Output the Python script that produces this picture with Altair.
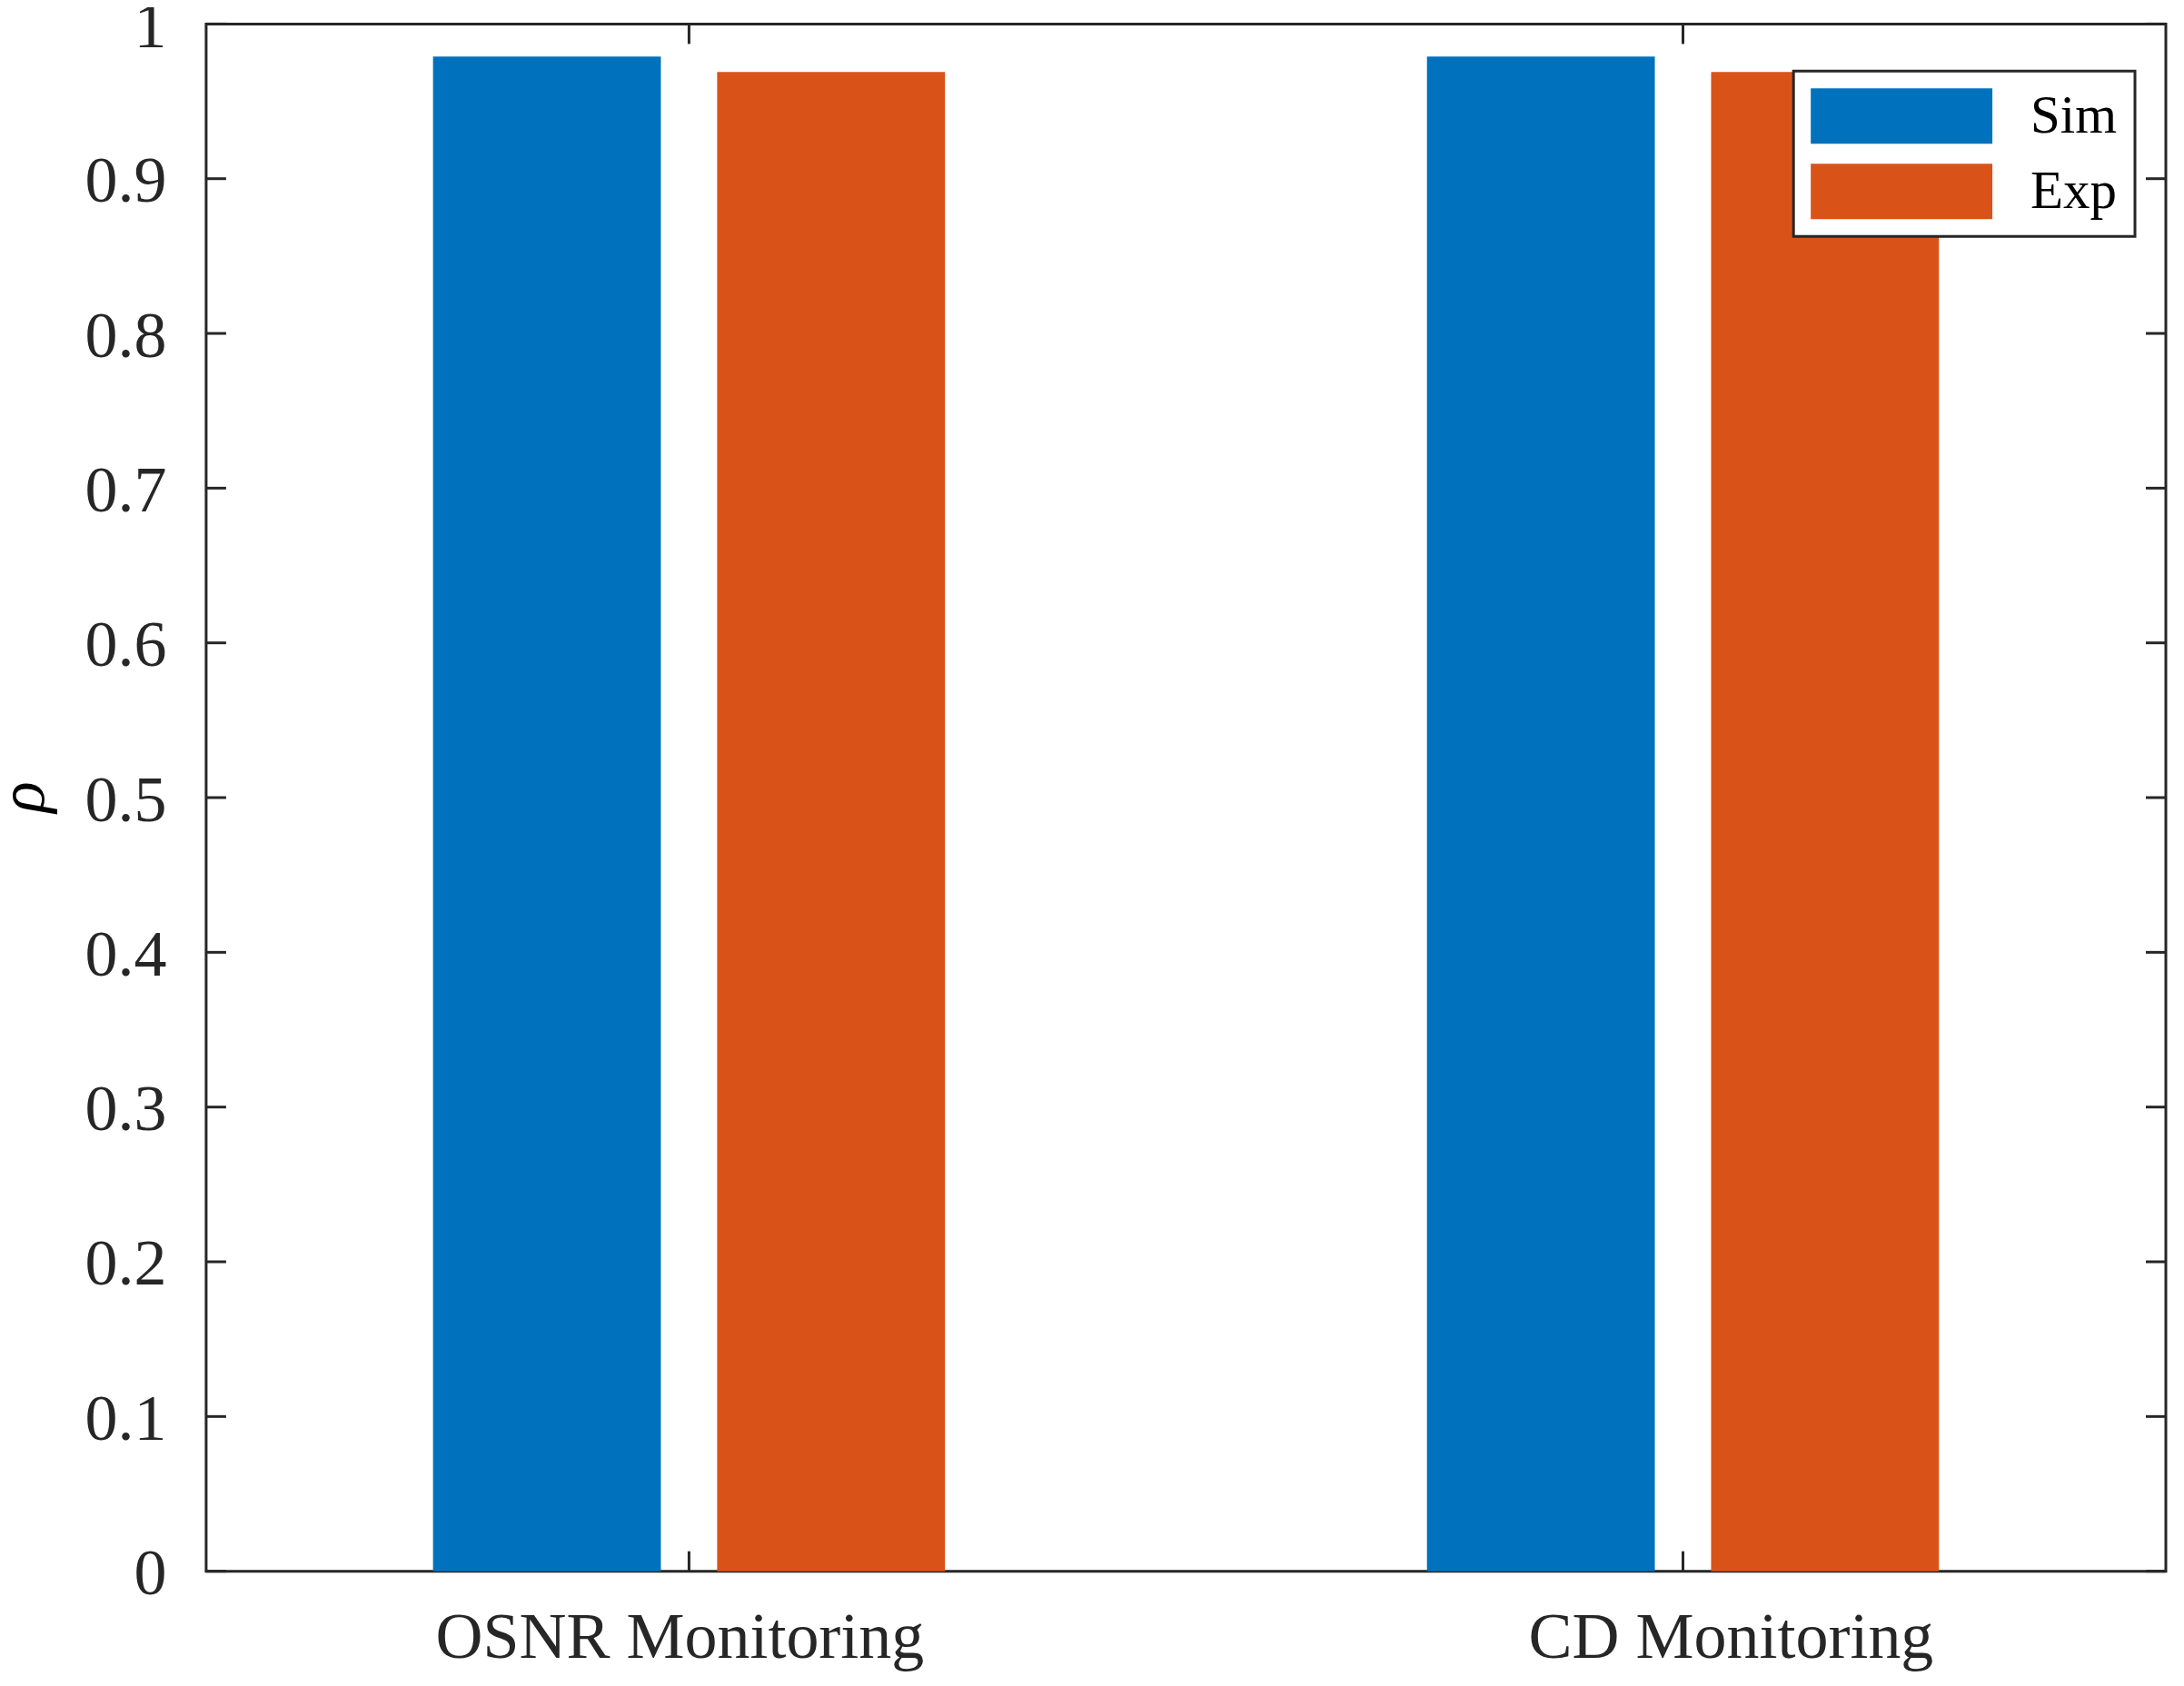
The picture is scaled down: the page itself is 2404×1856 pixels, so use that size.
import altair as alt
import pandas as pd

categories = ["OSNR Monitoring", "CD Monitoring"]
series = ["Sim", "Exp"]
sim_values = [0.979, 0.979]
exp_values = [0.969, 0.969]
colors = ["#0072BD", "#D95319"]
y_ticks = [0.0, 0.1, 0.2, 0.3, 0.4, 0.5, 0.6, 0.7, 0.8, 0.9, 1.0]

rows = []
for i, c in enumerate(categories):
    rows.append({"category": c, "series": "Sim", "value": sim_values[i]})
    rows.append({"category": c, "series": "Exp", "value": exp_values[i]})
df = pd.DataFrame(rows)
ytick_df = pd.DataFrame({"value": y_ticks})
xtick_df = pd.DataFrame({"category": categories})

W, H = 2158, 1704
TL = 22
FONT = "Liberation Serif"
AX = "#262626"

x_scale = alt.Scale(domain=categories, paddingInner=0.1, paddingOuter=0.0358)
y_scale = alt.Scale(domain=[0, 1], nice=False)

x_axis = alt.Axis(title=None, labelAngle=0, ticks=False, domain=False, grid=False,
                  labelFont=FONT, labelFontSize=72, labelColor=AX, labelPadding=38,
                  labelLimit=1000,
                  labelOffset={"condition": {"test": "datum.value === 'CD Monitoring'",
                                             "value": 53}, "value": -10})
y_axis = alt.Axis(title="ρ", values=y_ticks, format=".1~f", ticks=False, domain=False,
                  grid=False, labelFont=FONT, labelFontSize=72, labelColor=AX,
                  labelPadding=44, labelOffset=3, titleFont=FONT, titleFontSize=72,
                  titleFontStyle="italic", titleFontWeight="normal", titleColor="black",
                  titleX=-179, titleY=851, titleAngle=270, titleAlign="center",
                  titleBaseline="alphabetic")

# legend swatch: 200 x 61 px rectangle (size scale r = sqrt(size)/2 = 30.5)
swatch = "M-1,-1L5.557,-1L5.557,1L-1,1Z"

bars = alt.Chart(df).mark_bar().encode(
    x=alt.X("category:N", sort=categories, scale=x_scale, axis=x_axis),
    xOffset=alt.XOffset("series:N", sort=series,
                        scale=alt.Scale(domain=series, paddingInner=0.198, paddingOuter=0.6733)),
    y=alt.Y("value:Q", scale=y_scale, axis=y_axis),
    color=alt.Color("series:N", sort=series,
                    scale=alt.Scale(domain=series, range=colors),
                    legend=alt.Legend(title=None, orient="none", legendX=1748, legendY=52,
                                      symbolType=swatch, symbolSize=3721,
                                      symbolStrokeWidth=0,
                                      labelFont=FONT, labelFontSize=59, labelColor="black",
                                      labelOffset=181, padding=19, rowPadding=22,
                                      strokeColor=AX, fillColor="white")),
)

left_ticks = alt.Chart(ytick_df).mark_rule(color=AX, strokeWidth=3).encode(
    y=alt.Y("value:Q", scale=y_scale, axis=y_axis), x=alt.value(0), x2=alt.value(TL))
right_ticks = alt.Chart(ytick_df).mark_rule(color=AX, strokeWidth=3).encode(
    y=alt.Y("value:Q", scale=y_scale, axis=y_axis), x=alt.value(W - TL), x2=alt.value(W))
bottom_ticks = alt.Chart(xtick_df).mark_rule(color=AX, strokeWidth=3).encode(
    x=alt.X("category:N", sort=categories, scale=x_scale, axis=x_axis),
    y=alt.value(H - TL), y2=alt.value(H))
top_ticks = alt.Chart(xtick_df).mark_rule(color=AX, strokeWidth=3).encode(
    x=alt.X("category:N", sort=categories, scale=x_scale, axis=x_axis),
    y=alt.value(0), y2=alt.value(TL))

chart = alt.layer(bars, left_ticks, right_ticks, bottom_ticks, top_ticks).properties(
    width=W, height=H,
    autosize=alt.AutoSizeParams(type="none"),
    padding={"left": 219, "top": 18, "right": 12, "bottom": 114},
    background="white",
).configure_view(stroke=AX, strokeWidth=3).configure_legend(strokeWidth=3)

chart.save("out.html", embed_options={"renderer": "svg", "actions": False})
